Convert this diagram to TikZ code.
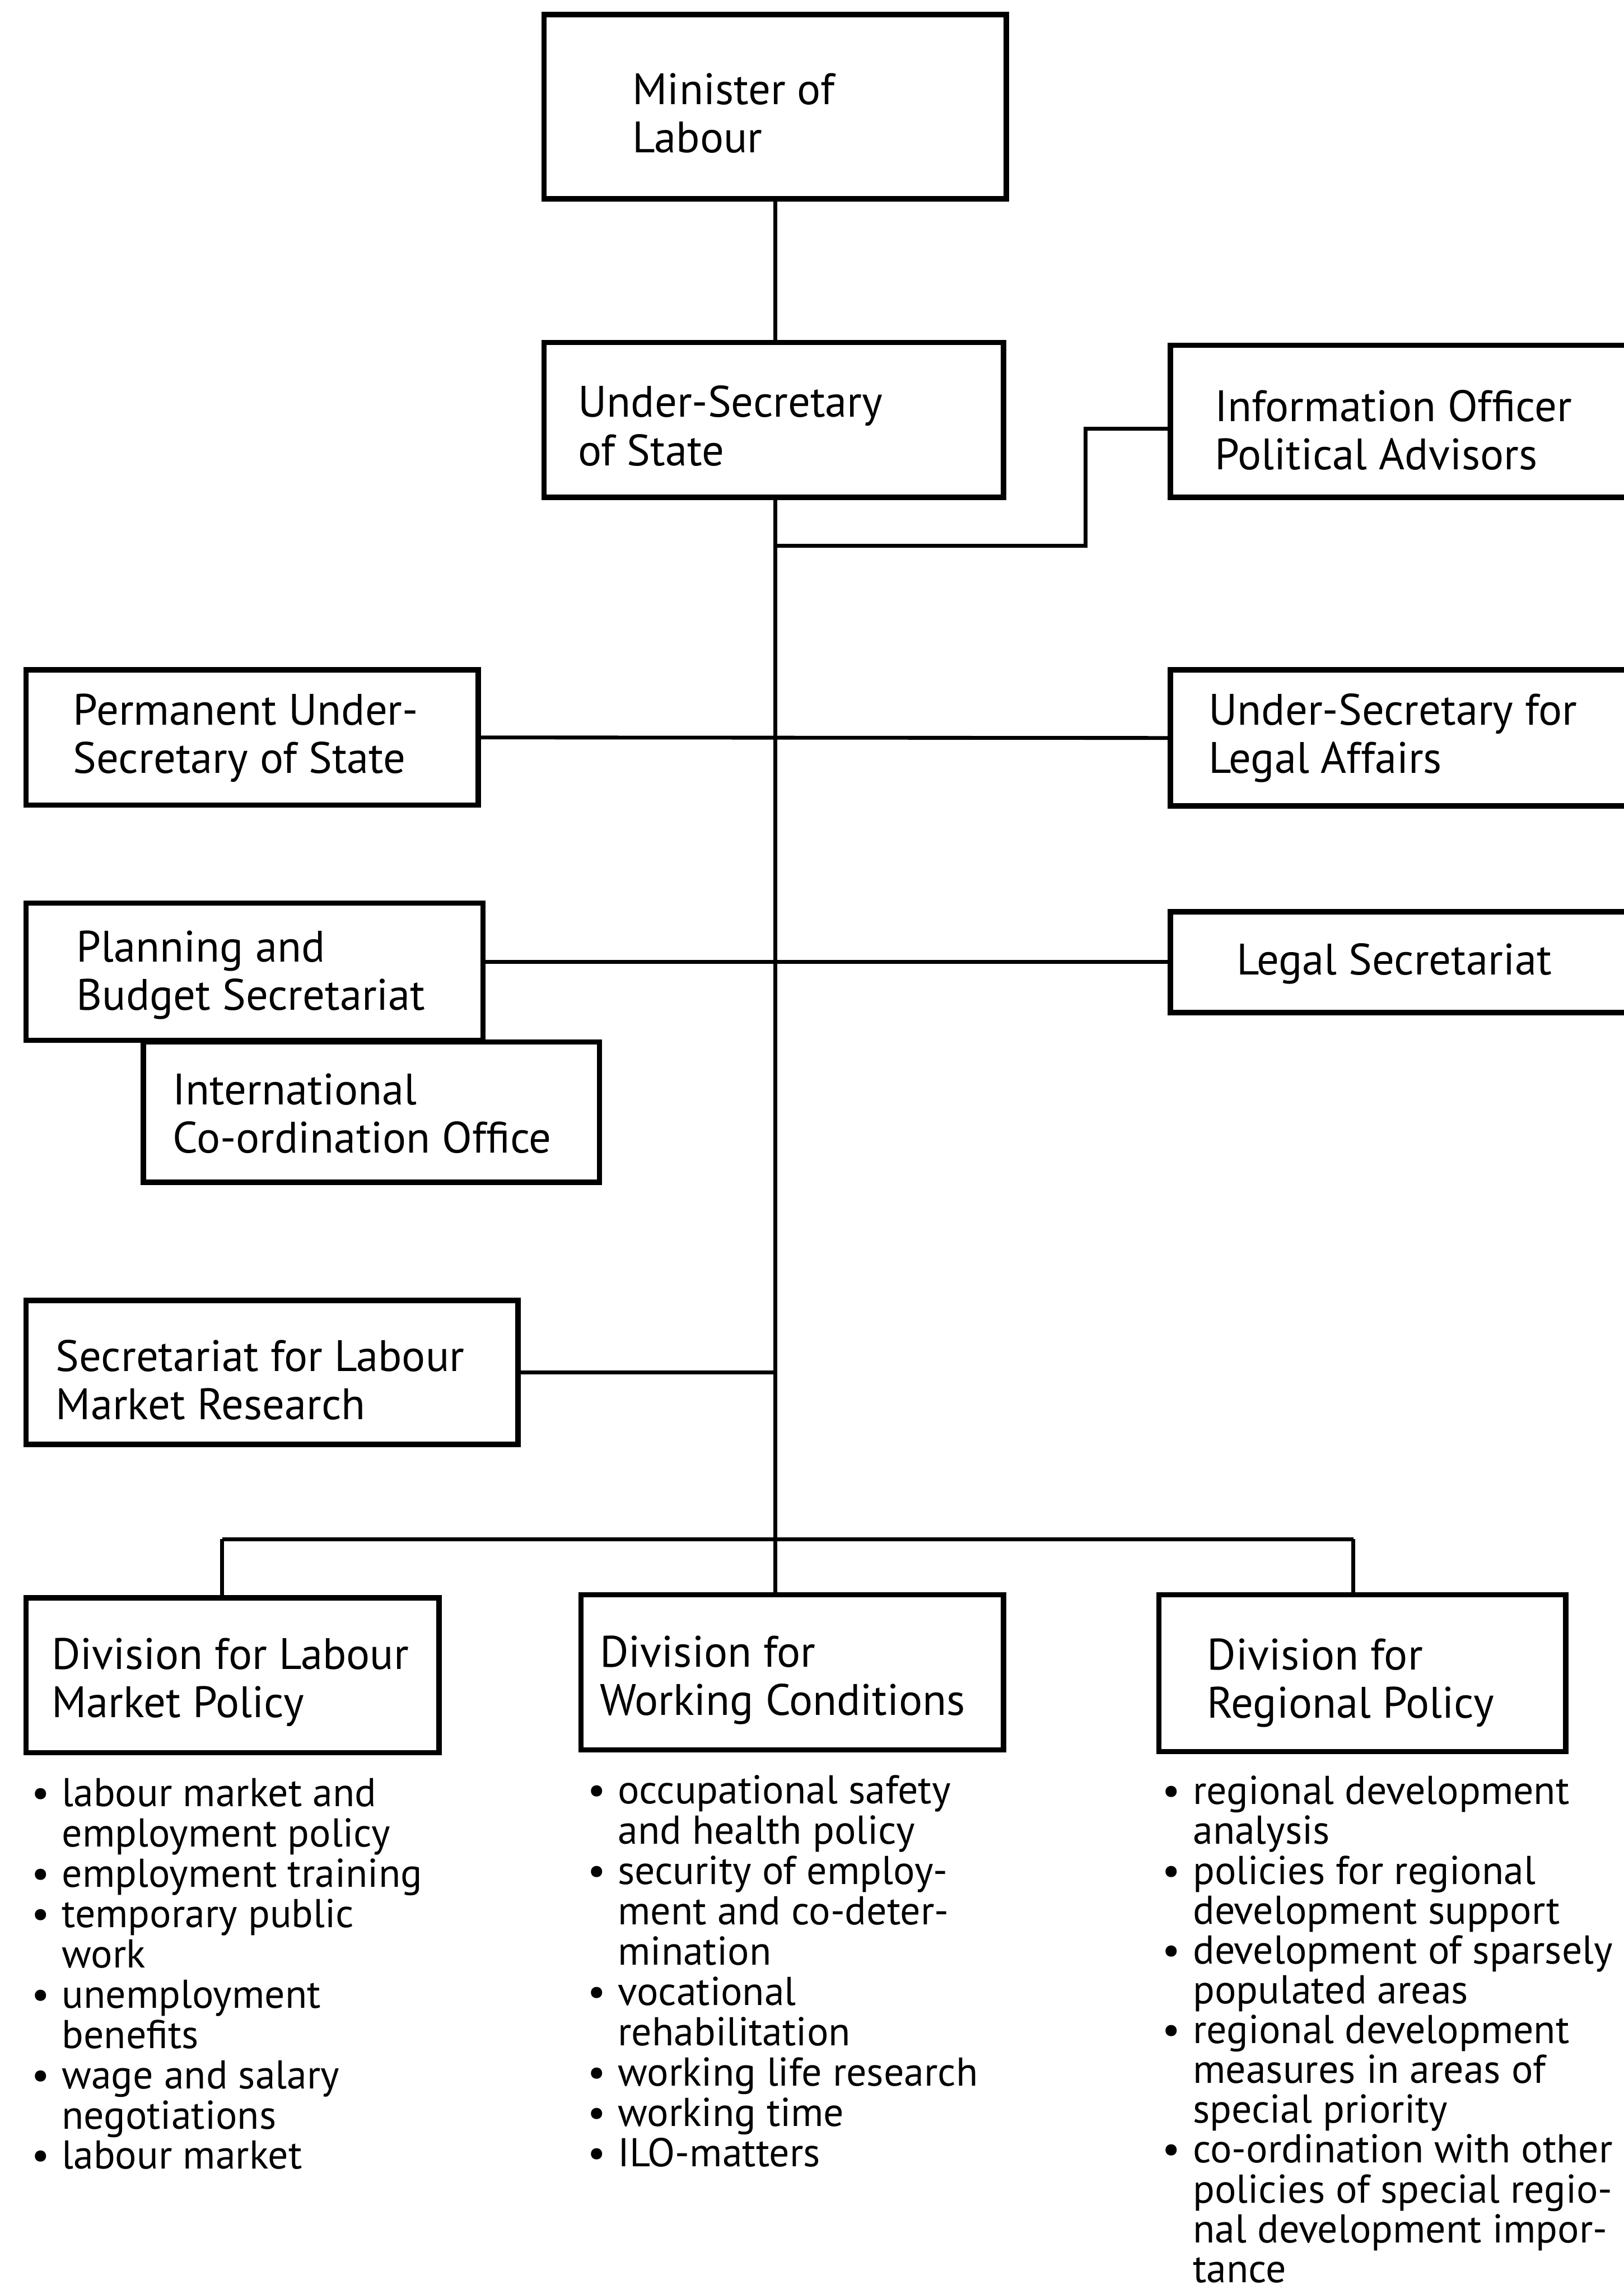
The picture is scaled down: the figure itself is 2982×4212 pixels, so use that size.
\documentclass[tikz,border=0pt]{standalone}
\usepackage{fontspec}
\setmainfont{PT Sans}
\usetikzlibrary{fit}
\newcommand\lbul{\makebox[0.56cm][l]{\textbullet}}
\newcommand\lind{\hspace*{0.56cm}}
\begin{document}
\begin{tikzpicture}[x=0.01cm,y=-0.01cm,
  box/.style={draw, line width=2.8pt, inner sep=0pt},
  conn/.style={line width=2pt},
  btxt/.style={inner sep=0pt, align=left, anchor=west, font=\fontsize{23pt}{25.2pt}\selectfont},
  lst/.style={inner sep=0pt, align=left, anchor=north west, font=\fontsize{21pt}{21.05pt}\selectfont},
  lstr/.style={lst, font=\fontsize{21pt}{20.8pt}\selectfont}]
\useasboundingbox (0,0) rectangle (2982,4212);
\clip (0,0) rectangle (2982,4212);

% boxes
\node[box, fit={(999,27) (1848,365)}] (min) {};
\node[box, fit={(999,629) (1843,913)}] (usec) {};
\node[box, fit={(2149,634) (2992,913)}] (info) {};
\node[box, fit={(48,1230) (878,1478)}] (perm) {};
\node[box, fit={(2149,1230) (2992,1480)}] (legaff) {};
\node[box, fit={(48,1658) (887,1910)}] (plan) {};
\node[box, fit={(2149,1674) (2992,1859)}] (lsec) {};
\node[box, fit={(263,1913) (1101,2171)}] (intl) {};
\node[box, fit={(48,2388) (951,2652)}] (slmr) {};
\node[box, fit={(48,2934) (806,3218)}] (d1) {};
\node[box, fit={(1067,2928) (1843,3213)}] (d2) {};
\node[box, fit={(2128,2928) (2875,3216)}] (d3) {};

% box texts
\node[btxt] (min-t) at (1161,208) {Minister of\\Labour};
\node[btxt] (usec-t) at (1061,782) {Under-Secretary\\of State};
\node[btxt] (info-t) at (2230,790) {Information Officer\\Political Advisors};
\node[btxt] (perm-t) at (134,1355) {Permanent Under-\\Secretary of State};
\node[btxt] (legaff-t) at (2219,1355) {Under-Secretary for\\Legal Affairs};
\node[btxt] (plan-t) at (140,1790) {Planning and\\Budget Secretariat};
\node[btxt, anchor=center] (lsec-t) at (2560,1770) {Legal Secretariat};
\node[btxt] (intl-t) at (317,2044) {International\\Co-ordination Office};
\node[btxt] (slmr-t) at (102,2534) {Secretariat for Labour\\Market Research};
\node[btxt] (d1-t) at (94,3089) {Division for Labour\\Market Policy};
\node[btxt] (d2-t) at (1101,3085) {Division for\\Working Conditions};
\node[btxt] (d3-t) at (2216,3090) {Division for\\Regional Policy};

% connector points
\coordinate (spine) at (1424,913);
\coordinate (jinfo) at (1424,1002);
\coordinate (kinfo) at (1993,787);
\coordinate (bus) at (1424,2826);
\coordinate (busL) at (408,2826);
\coordinate (busR) at (2485,2826);

% connectors
\draw[conn] (min.south) -- (min.south |- usec.north);
\draw[conn] (spine) -- (bus);
\draw[conn] (jinfo) -| (kinfo) -- (kinfo -| info.west);
\draw[conn] (perm.east) -- (legaff.west);
\draw[conn] (plan.east |- lsec.west) -- (lsec.west);
\draw[conn] (slmr.east) -- (slmr.east -| bus);
\draw[conn] (busL) -- (busR);
\draw[conn] (busL) -- (busL |- d1.north);
\draw[conn] (bus) -- (bus |- d2.north);
\draw[conn] (busR) -- (busR |- d3.north);

% lists
\node[lst] (l1) at (57,3264) {\lbul labour market and\\
\lind employment policy\\
\lbul employment training\\
\lbul temporary public\\
\lind work\\
\lbul unemployment\\
\lind benefits\\
\lbul wage and salary\\
\lind negotiations\\
\lbul labour market};
\node[lst] (l2) at (1078,3259) {\lbul occupational safety\\
\lind and health policy\\
\lbul security of employ-\\
\lind ment and co-deter-\\
\lind mination\\
\lbul vocational\\
\lind rehabilitation\\
\lbul working life research\\
\lbul working time\\
\lbul ILO-matters};
\node[lstr] (l3) at (2134,3260) {\lbul regional development\\
\lind analysis\\
\lbul policies for regional\\
\lind development support\\
\lbul development of sparsely\\
\lind populated areas\\
\lbul regional development\\
\lind measures in areas of\\
\lind special priority\\
\lbul co-ordination with other\\
\lind policies of special regio-\\
\lind nal development impor-\\
\lind tance};
\end{tikzpicture}
\end{document}
